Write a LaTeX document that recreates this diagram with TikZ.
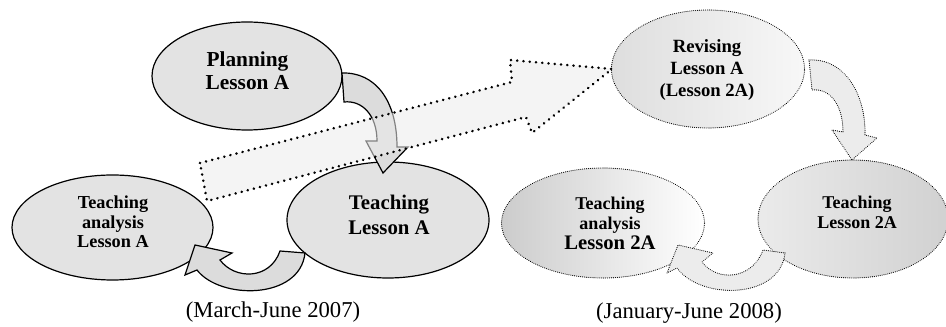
\documentclass[tikz,border=0pt]{standalone}
\usepackage{fontspec}
\setmainfont{Liberation Serif}
\usetikzlibrary{shapes.geometric}
\definecolor{ellfill}{RGB}{227,227,227}
\definecolor{arrfill}{RGB}{220,220,220}
\definecolor{dotfill}{RGB}{236,236,236}
\begin{document}
\begin{tikzpicture}[x=0.75pt,y=-0.75pt,
  solidell/.style={ellipse, draw=black, line width=0.9pt, fill=ellfill, inner sep=0pt},
  dotell/.style={ellipse, draw=black, line width=0.85pt, dash pattern=on 0.01pt off 1.45pt, line cap=round, inner sep=0pt},
  esize/.style 2 args={minimum width=#1*0.75pt, minimum height=#2*0.75pt},
  solidarrow/.style={draw=black, line width=0.9pt, fill=arrfill, line join=miter},
  dotarrow/.style={draw=black, line width=0.85pt, dash pattern=on 0.01pt off 1.45pt, line cap=round, fill=dotfill},
  bigarrow/.style={draw=black, line width=2.1pt, dash pattern=on 0.01pt off 4.7pt, line cap=round, fill=black!8, fill opacity=0.55, draw opacity=1},
  lbl/.style={align=center, inner sep=0pt},
  caption/.style={inner sep=0pt, font=\fontsize{17}{19}\selectfont}
]
\useasboundingbox (0,0) rectangle (946,327);

% ---- first cycle (solid) ----
\node[solidell, esize={190}{108}] (plan) at (247,76) {};
\node[solidell, esize={201}{105}] (tal) at (112.5,227.5) {};
\node[solidell, esize={202}{116}] (tla) at (388,220) {};

% ---- second cycle (dotted, shaded) ----
\node[dotell, esize={193}{118}, left color=black!13, right color=black!3] (rev) at (708,69) {};
\node[dotell, esize={203}{110}, left color=black!20, right color=white] (ta2) at (603,223) {};
\node[dotell, esize={190}{118}, left color=black!8, middle color=white, right color=black!18] (tl2) at (853,219) {};

% ---- curved block arrows, first cycle ----
\path[solidarrow] (342,73) .. controls (375,72) and (397,100) .. (397,147)
  -- (408,147) -- (383,173) -- (366,141) -- (377,141)
  .. controls (377,115) and (362,100) .. (344,102) -- cycle;
\path[solidarrow] (305,253) .. controls (300,300) and (220,300) .. (197,270)
  -- (185,275) -- (195,245) -- (232,253) -- (220,260)
  .. controls (235,280) and (270,280) .. (280,251) -- cycle;

% ---- curved block arrows, second cycle ----
\path[dotarrow] (809,60) .. controls (845,58) and (866,95) .. (865,135)
  -- (877,138) -- (852,160) -- (832,130) -- (843,132)
  .. controls (843,105) and (830,88) .. (812,90) -- cycle;
\path[dotarrow] (785,253) .. controls (780,300) and (700,300) .. (677,268)
  -- (667,273) -- (678,245) -- (713,253) -- (702,262)
  .. controls (717,282) and (752,280) .. (763,250) -- cycle;

% ---- big dotted arrow from first cycle to revising ----
\path[bigarrow] (200,163) -- (512,82) -- (510,60) -- (612,69) -- (532,133) -- (526,117) -- (207,201) -- cycle;

% ---- texts ----
\node[lbl, font=\fontsize{16}{17.25}\selectfont\bfseries] (tplan) at (247.5,71) {Planning\\Lesson A};
\node[lbl, font=\fontsize{13.7}{14.6}\selectfont\bfseries] (ttal) at (113,222) {Teaching\\analysis\\Lesson A};
\node[lbl, font=\fontsize{15.6}{18.75}\selectfont\bfseries] (ttla) at (389,215) {Teaching\\Lesson A};
\node[lbl, font=\fontsize{14}{16.5}\selectfont\bfseries] (trev) at (707,70.5) {Revising\\Lesson A\\(Lesson 2A)};
\node[lbl, font=\fontsize{13.5}{15}\selectfont\bfseries] (tta2) at (610,223.5) {Teaching\\analysis\\{\fontsize{15.5}{15}\selectfont Lesson 2A}};
\node[lbl, font=\fontsize{13.5}{15}\selectfont\bfseries] (ttl2) at (857,212) {Teaching\\Lesson 2A};

\node[caption] (cap1) at (273,312) {(March-June 2007)};
\node[caption] (cap2) at (689,313) {(January-June 2008)};
\end{tikzpicture}
\end{document}
